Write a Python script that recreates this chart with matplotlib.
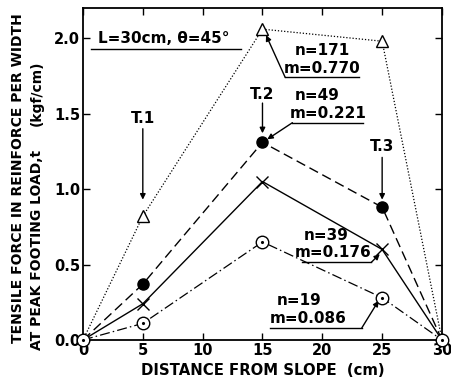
import numpy as np
import matplotlib
matplotlib.use("Agg")
import matplotlib.pyplot as plt

plt.rcParams['font.family'] = ['DejaVu Sans']
plt.rcParams['font.weight'] = 'bold'

# distance from slope (cm)
dist = [0, 5, 15, 25, 30]
# tensile force (kgf/cm) for each case
t_171 = [0, 0.82, 2.06, 1.98, 0]
t_49 = [0, 0.37, 1.31, 0.88, 0]
t_39 = [0, 0.24, 1.05, 0.60, 0]
t_19 = [0, 0.11, 0.65, 0.28, 0]

fig = plt.figure(figsize=(4.51, 3.82), dpi=100)
ax = fig.add_axes([0.184, 0.110, 0.796, 0.869])

ax.plot(dist, t_171, color='black', lw=0.9, ls=(0, (1, 1.5)), marker='^', ms=8,
        mfc='white', mec='black', markevery=[1, 2, 3])
ax.plot(dist, t_49, color='black', lw=1.0, ls=(0, (7, 3.5)), marker='o', ms=8,
        mfc='black', mec='black', markevery=[1, 2, 3])
ax.plot(dist, t_39, color='black', lw=1.0, ls='-', marker='x', ms=8, mew=1.0,
        markevery=[1, 2, 3])
ax.plot(dist, t_19, color='black', lw=0.9, ls=(0, (8, 2.5, 1.2, 2.5)), marker='o', ms=9,
        mfc='white', mec='black', mew=1.0, clip_on=False, zorder=5)
ax.plot(dist, t_19, ls='none', marker='.', ms=2.5, color='black', clip_on=False, zorder=6)

ax.set_xlim(0, 30)
ax.set_ylim(0, 2.2)
ax.set_xticks([0, 5, 10, 15, 20, 25, 30])
ax.set_yticks([0.0, 0.5, 1.0, 1.5, 2.0])
ax.set_yticklabels(['0.0', '0.5', '1.0', '1.5', '2.0'])
ax.tick_params(direction='in', top=True, right=True, length=5, width=1.0,
               labelsize=10.5, pad=2)
for s in ax.spines.values():
    s.set_linewidth(1.3)

ax.set_xlabel('DISTANCE FROM SLOPE  (cm)', fontsize=10.7, fontweight='bold', labelpad=4)

fig.text(0.04, 0.535, 'TENSILE FORCE IN REINFORCE PER WIDTH', rotation=90,
         ha='center', va='center', fontsize=10, fontweight='bold')
fig.text(0.082, 0.607, 'AT PEAK FOOTING LOAD,t', rotation=90,
         ha='center', va='top', fontsize=10, fontweight='bold')
fig.text(0.082, 0.756, '(kgf/cm)', rotation=90,
         ha='center', va='center', fontsize=10, fontweight='bold')

# header
ax.text(1.25, 2.0, 'L=30cm, θ=45°', fontsize=11, fontweight='bold', va='center')
ax.plot([0.7, 13.2], [1.93, 1.93], color='black', lw=1.0)

# case labels with leaders
cases = [
    ('n=171', 'm=0.770', (20.0, 1.92), (20.0, 1.80), (16.9, 23.1, 1.74), (15.3, 2.02)),
    ('n=49', 'm=0.221', (19.6, 1.62), (20.5, 1.50), (17.5, 23.4, 1.44), (15.4, 1.33)),
    ('n=39', 'm=0.176', (20.3, 0.69), (20.9, 0.58), (18.3, 24.1, 0.515), (24.8, 0.57)),
    ('n=19', 'm=0.086', (18.1, 0.26), (18.8, 0.145), (15.6, 23.3, 0.08), (24.7, 0.26)),
]
for n_txt, m_txt, n_pos, m_pos, (ux0, ux1, uy), tip in cases:
    ax.text(*n_pos, n_txt, ha='center', va='center', fontsize=11, fontweight='bold')
    ax.text(*m_pos, m_txt, ha='center', va='center', fontsize=11, fontweight='bold')
    ax.plot([ux0, ux1], [uy, uy], color='black', lw=1.0)
    start = (ux0, uy) if tip[0] < ux0 else (ux1, uy)
    ax.annotate('', xy=tip, xytext=start,
                arrowprops=dict(arrowstyle='-|>', color='black', lw=1.0,
                                mutation_scale=8, shrinkA=0, shrinkB=0))

# T markers
for lbl, x, y_lbl, y0, y1 in [('T.1', 5, 1.47, 1.40, 0.93),
                              ('T.2', 15, 1.63, 1.57, 1.37),
                              ('T.3', 25, 1.28, 1.21, 0.93)]:
    ax.text(x, y_lbl, lbl, ha='center', va='center', fontsize=11, fontweight='bold')
    ax.annotate('', xy=(x, y1), xytext=(x, y0),
                arrowprops=dict(arrowstyle='-|>', color='black', lw=1.0,
                                mutation_scale=8, shrinkA=0, shrinkB=0))

fig.savefig('out.png', dpi=100)
